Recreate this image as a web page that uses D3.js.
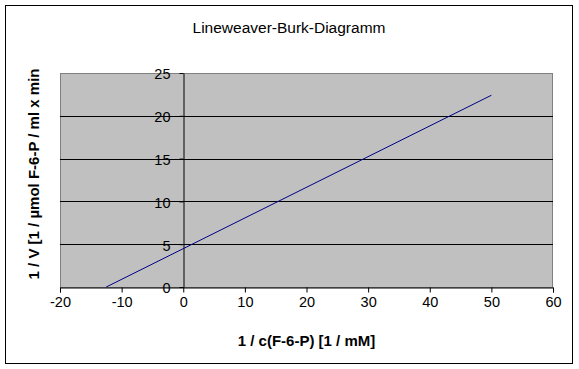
<!DOCTYPE html>
<html lang="en">
<head>
  <meta charset="utf-8" />
  <title>Lineweaver-Burk-Diagramm</title>
  <style>
    body { margin: 0; background: #fff; }
    svg { display: block; font-family: "Liberation Sans", Arial, sans-serif; }
  </style>
</head>
<body>
  <svg width="579" height="369"></svg>
  <script src="https://d3js.org/d3.v7.min.js"></script>
  <script>
    // data
    const lineX = [-12.5, 50];
    const lineY = [0, 22.4];
    const xTicks = [-20, -10, 0, 10, 20, 30, 40, 50, 60];
    const yTicks = [0, 5, 10, 15, 20, 25];

    const svg = d3.select("svg");
    const plot = {left: 60, right: 553, top: 73, bottom: 287};

    const x = d3.scaleLinear().domain([-20, 60]).range([plot.left, plot.right]);
    const y = d3.scaleLinear().domain([0, 25]).range([plot.bottom, plot.top]);
    const fmt = d => String(d);  // plain hyphen minus like Excel

    // outer chart border
    svg.append("rect")
      .attr("x", 5.5).attr("y", 5.5)
      .attr("width", 567).attr("height", 358)
      .attr("fill", "#fff").attr("stroke", "#000");

    svg.append("text")
      .attr("x", 289).attr("y", 33)
      .attr("text-anchor", "middle")
      .style("font-size", "15.5px")
      .text("Lineweaver-Burk-Diagramm");

    // plot area
    svg.append("rect")
      .attr("x", plot.left + 0.5).attr("y", plot.top + 0.5)
      .attr("width", plot.right - plot.left - 1).attr("height", plot.bottom - plot.top)
      .attr("fill", "#c0c0c0").attr("stroke", "#808080");

    // gridlines
    svg.append("g")
      .selectAll("line")
      .data(yTicks.filter(d => d > 0 && d < 25))
      .join("line")
      .attr("x1", plot.left).attr("x2", plot.right)
      .attr("y1", d => Math.round(y(d)) + 0.5).attr("y2", d => Math.round(y(d)) + 0.5)
      .attr("stroke", "#000");

    // x axis
    const xAxis = svg.append("g")
      .attr("transform", `translate(0,${plot.bottom + 0.5})`)
      .call(d3.axisBottom(x).tickValues(xTicks).tickFormat(fmt).tickSize(5).tickPadding(14));
    xAxis.select(".domain").attr("stroke", "#000");
    xAxis.selectAll("text").style("font-size", "14.5px").attr("fill", "#000")
      .attr("dy", null);

    // y axis at x = 0
    const yAxis = svg.append("g")
      .attr("transform", `translate(${Math.round(x(0)) + 0.5},0)`)
      .call(d3.axisLeft(y).tickValues(yTicks).tickFormat(fmt).tickSize(4).tickPadding(9).tickSizeOuter(0));
    yAxis.selectAll("text").style("font-size", "14.5px").attr("fill", "#000")
      .attr("dy", "0.4em");

    // series
    const pts = lineX.map((v, i) => [v, lineY[i]]);
    svg.append("path")
      .datum(pts)
      .attr("fill", "none")
      .attr("stroke", "#000080")
      .attr("stroke-width", 1)
      .attr("d", d3.line().x(d => x(d[0])).y(d => y(d[1])));

    // axis titles
    svg.append("text")
      .attr("x", (plot.left + plot.right) / 2).attr("y", 346)
      .attr("text-anchor", "middle")
      .style("font-size", "15px").style("font-weight", "bold")
      .text("1 / c(F-6-P) [1 / mM]");

    svg.append("text")
      .attr("transform", `translate(39,${(plot.top + plot.bottom) / 2 - 6}) rotate(-90)`)
      .attr("text-anchor", "middle")
      .style("font-size", "15px").style("font-weight", "bold")
      .text("1 / V [1 / µmol F-6-P / ml x min");
  </script>
</body>
</html>
